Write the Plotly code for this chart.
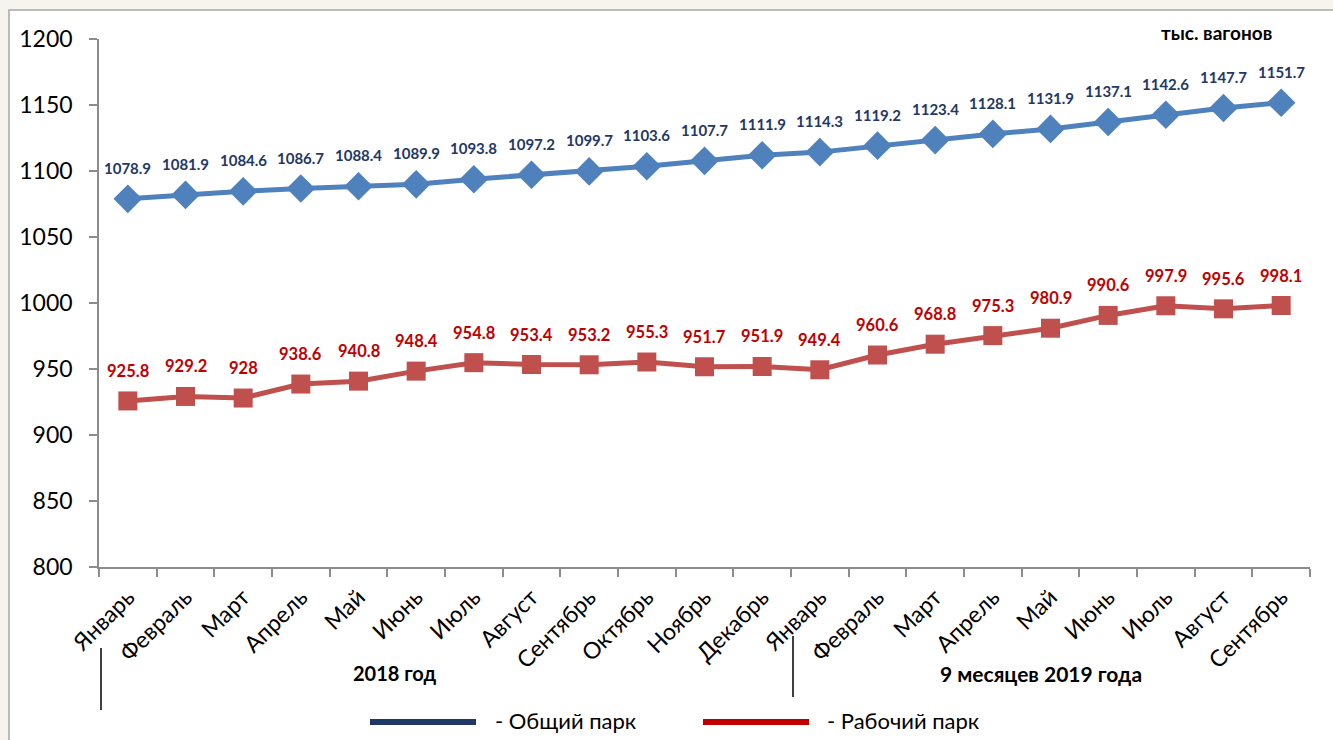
import plotly.graph_objects as go

months = ["Январь", "Февраль", "Март", "Апрель", "Май", "Июнь", "Июль", "Август",
          "Сентябрь", "Октябрь", "Ноябрь", "Декабрь",
          "Январь", "Февраль", "Март", "Апрель", "Май", "Июнь", "Июль", "Август", "Сентябрь"]
years = ["2018"] * 12 + ["2019"] * 9
total_park = [1078.9, 1081.9, 1084.6, 1086.7, 1088.4, 1089.9, 1093.8, 1097.2, 1099.7, 1103.6,
              1107.7, 1111.9, 1114.3, 1119.2, 1123.4, 1128.1, 1131.9, 1137.1, 1142.6, 1147.7, 1151.7]
work_park = [925.8, 929.2, 928, 938.6, 940.8, 948.4, 954.8, 953.4, 953.2, 955.3,
             951.7, 951.9, 949.4, 960.6, 968.8, 975.3, 980.9, 990.6, 997.9, 995.6, 998.1]
y_ticks = [800, 850, 900, 950, 1000, 1050, 1100, 1150, 1200]
series_names = ["Общий парк", "Рабочий парк"]
group_labels = ["2018 год", "9 месяцев 2019 года"]
unit_label = "тыс. вагонов"

# unique category keys so repeated month names stay distinct
cats = [f"{y}-{m}" for y, m in zip(years, months)]

W, H = 1333, 740
L, R, T, B = 99, 1310, 39, 567
def px(x):
    return (x - L) / (R - L)
def py(y):
    return (B - y) / (B - T)

FONT = "Lato"
fig = go.Figure()
fig.add_trace(go.Scatter(x=cats, y=total_park, mode="lines+markers", name=series_names[0],
                         line=dict(color="#4f81bd", width=5),
                         marker=dict(symbol="diamond", size=22, color="#4f81bd"),
                         showlegend=False))
fig.add_trace(go.Scatter(x=cats, y=work_park, mode="lines+markers", name=series_names[1],
                         line=dict(color="#c0504d", width=5),
                         marker=dict(symbol="square", size=19, color="#c0504d"),
                         showlegend=False))

annotations = []
for c, v in zip(cats, total_park):
    annotations.append(dict(x=c, y=v, xref="x", yref="y", text=f"<b>{v:g}</b>", showarrow=False,
                            yshift=31, font=dict(family=FONT, size=15, color="#1f3864")))
for c, v in zip(cats, work_park):
    annotations.append(dict(x=c, y=v, xref="x", yref="y", text=f"<b>{v:g}</b>", showarrow=False,
                            yshift=30, font=dict(family=FONT, size=16.5, color="#c00000")))

def txt(x, y, text, size, bold=False, xanchor="center"):
    return dict(x=px(x), y=py(y), xref="paper", yref="paper", xanchor=xanchor, yanchor="middle",
                text=f"<b>{text}</b>" if bold else text, showarrow=False,
                font=dict(family=FONT, size=size, color="black"))

annotations += [
    txt(395, 673, group_labels[0], 20, bold=True),
    txt(1041, 673, group_labels[1], 21, bold=True),
    txt(1216, 33, unit_label, 19, bold=True),
    txt(493, 720, "- " + series_names[0], 22, xanchor="left"),
    txt(825, 720, "- " + series_names[1], 22, xanchor="left"),
]

shapes = [
    dict(type="rect", xref="paper", yref="paper", x0=px(9), x1=px(1345), y0=py(760), y1=py(10),
         line=dict(color="#a6a6a6", width=1.5), fillcolor="white", layer="below"),
    dict(type="line", xref="paper", yref="paper", x0=px(101), x1=px(101), y0=py(648), y1=py(710),
         line=dict(color="black", width=1.5)),
    dict(type="line", xref="paper", yref="paper", x0=px(793), x1=px(793), y0=py(636), y1=py(697),
         line=dict(color="black", width=1.5)),
    dict(type="line", xref="paper", yref="paper", x0=px(370), x1=px(476), y0=py(722), y1=py(722),
         line=dict(color="#1f3864", width=6)),
    dict(type="line", xref="paper", yref="paper", x0=px(703), x1=px(809), y0=py(722), y1=py(722),
         line=dict(color="#c00000", width=6)),
]

fig.update_layout(
    width=W, height=H,
    margin=dict(l=L, r=W - R, t=T, b=H - B),
    paper_bgcolor="#f5f4ef",
    plot_bgcolor="white",
    font=dict(family=FONT, color="black"),
    annotations=annotations,
    shapes=shapes,
    showlegend=False,
)
fig.update_xaxes(
    type="category", tickmode="array", tickvals=cats, ticktext=months,
    tickangle=-45, tickfont=dict(family=FONT, size=23, color="black"),
    showgrid=False, zeroline=False,
    showline=True, linecolor="#8c8c8c", linewidth=1.5,
    ticks="outside", ticklen=8, tickcolor="#8c8c8c", tickwidth=1.5, tickson="boundaries",
    ticklabelstandoff=6,
    range=[-0.5, len(cats) - 0.5],
)
fig.update_yaxes(
    range=[800, 1200], tickvals=y_ticks, tickfont=dict(family=FONT, size=23, color="black"),
    showgrid=False, zeroline=False,
    showline=True, linecolor="#8c8c8c", linewidth=1.5,
    ticks="outside", ticklen=8, tickcolor="#8c8c8c", tickwidth=1.5, ticklabelstandoff=12,
)

fig.write_html("out.html", config={"displayModeBar": False},
               post_script="document.body.style.margin='0';document.body.style.overflow='hidden';")
